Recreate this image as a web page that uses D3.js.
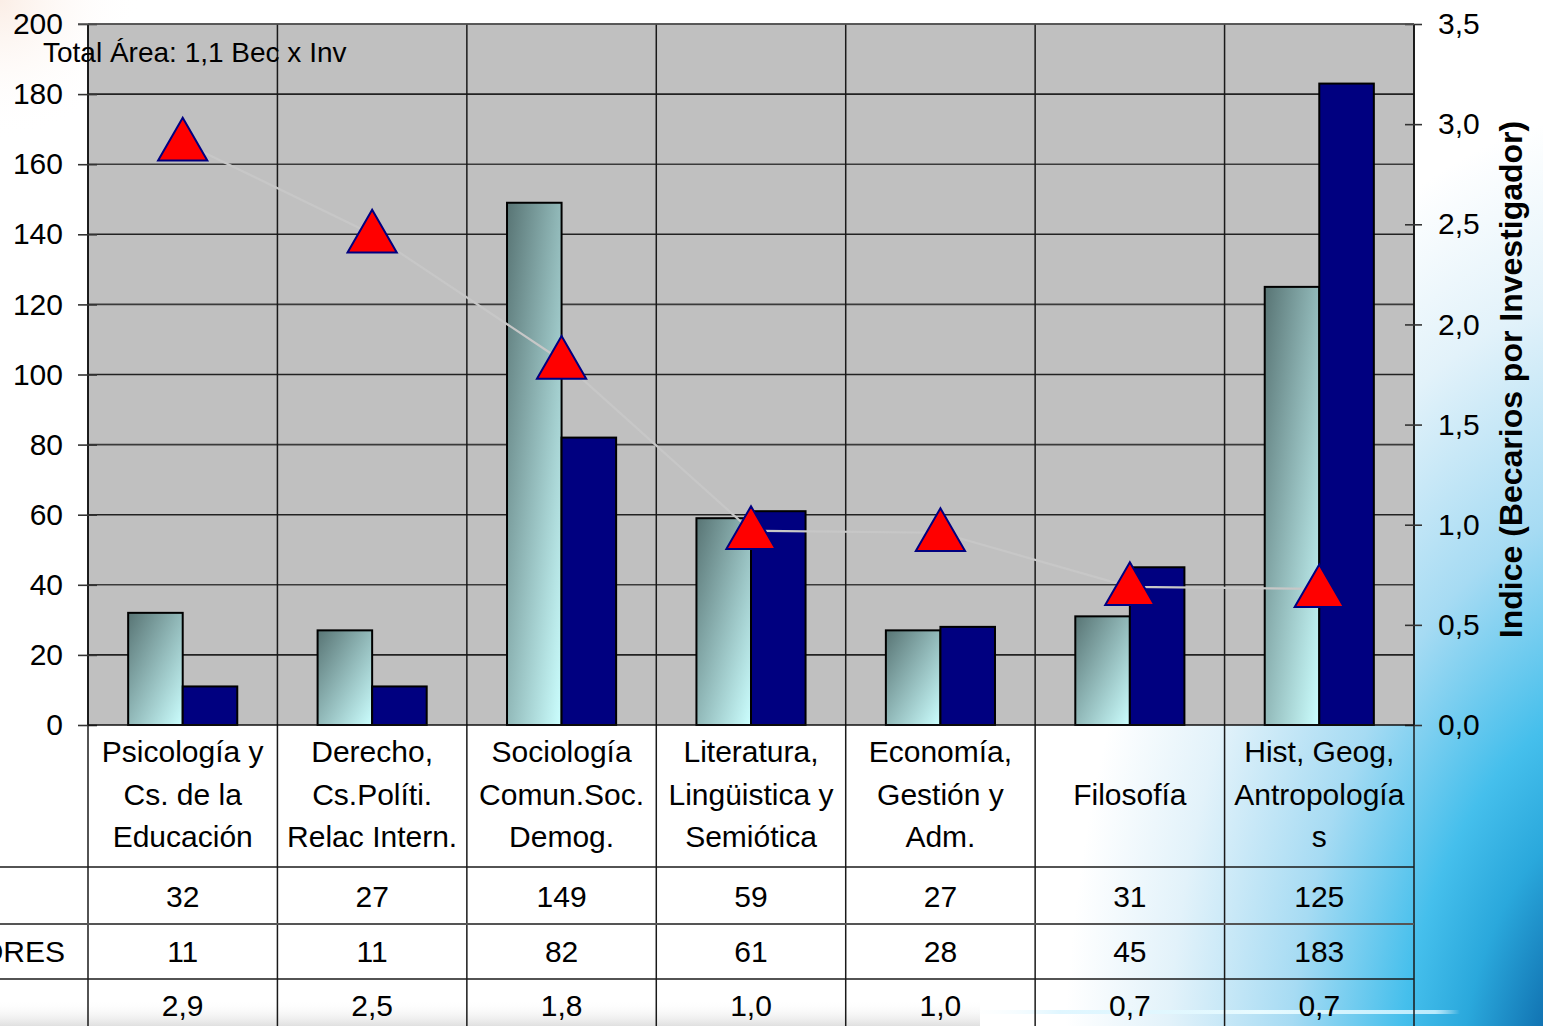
<!DOCTYPE html>
<html>
<head>
<meta charset="utf-8">
<script src="https://cdn.jsdelivr.net/npm/d3@7/dist/d3.min.js"></script>
<style>
  html, body { margin: 0; padding: 0; background: #fff; overflow: hidden; }
  svg { display: block; font-family: "Liberation Sans", Arial, sans-serif; }
</style>
</head>
<body>
<svg id="chart" width="1543" height="1026"></svg>
<script>
// ---- data ----
const categories = ["Psicología y Cs. de la Educación", "Derecho, Cs.Políti. Relac Intern.", "Sociología Comun.Soc. Demog.", "Literatura, Lingüistica y Semiótica", "Economía, Gestión y Adm.", "Filosofía", "Hist, Geog, Antropologías"];
const categoryLines = [
  ["Psicología y", "Cs. de la", "Educación"],
  ["Derecho,", "Cs.Políti.", "Relac Intern."],
  ["Sociología", "Comun.Soc.", "Demog."],
  ["Literatura,", "Lingüistica y", "Semiótica"],
  ["Economía,", "Gestión y", "Adm."],
  ["Filosofía"],
  ["Hist, Geog,", "Antropología", "s"]
];
const becarios = [32, 27, 149, 59, 27, 31, 125];
const investigadores = [11, 11, 82, 61, 28, 45, 183];
const indice = [2.91, 2.45, 1.82, 0.97, 0.96, 0.69, 0.68];
const indiceLabels = ["2,9", "2,5", "1,8", "1,0", "1,0", "0,7", "0,7"];
const leftTicks = [0, 20, 40, 60, 80, 100, 120, 140, 160, 180, 200];
const rightTicks = [0, 0.5, 1.0, 1.5, 2.0, 2.5, 3.0, 3.5];
const rowLabels = ["", "INVESTIGADORES", ""];
const note = "Total Área: 1,1 Bec x Inv";
const rightTitle = "Indice (Becarios por Investigador)";

// ---- layout ----
const W = 1543, H = 1026;
const plot = { left: 88, right: 1414, top: 24, bottom: 725 };
const svg = d3.select("#chart");
const defs = svg.append("defs");

// background gradients
const bgRad = defs.append("radialGradient").attr("id", "bgBlue")
  .attr("gradientUnits", "userSpaceOnUse")
  .attr("cx", 1640).attr("cy", 1120).attr("r", 760)
  .attr("gradientTransform", "translate(1640,1120) scale(0.8,1.4) translate(-1640,-1120)");
[[0, "#064a86"], [0.17, "#0f6eae"], [0.3, "#2aa8dc"], [0.4, "#45bfec"], [0.58, "#a6dbf3"], [0.78, "#e2f2fa"], [0.95, "#ffffff"]]
  .forEach(([o, c]) => bgRad.append("stop").attr("offset", o).attr("stop-color", c));
const bgPeach = defs.append("radialGradient").attr("id", "bgPeach")
  .attr("gradientUnits", "userSpaceOnUse").attr("cx", 0).attr("cy", 0).attr("r", 140);
bgPeach.append("stop").attr("offset", 0).attr("stop-color", "#fbeee6");
bgPeach.append("stop").attr("offset", 1).attr("stop-color", "#ffffff").attr("stop-opacity", 0);
const bottomShade = defs.append("linearGradient").attr("id", "bottomShade")
  .attr("x1", 0).attr("y1", 0).attr("x2", 0).attr("y2", 1);
bottomShade.append("stop").attr("offset", 0).attr("stop-color", "#ffffff").attr("stop-opacity", 0);
bottomShade.append("stop").attr("offset", 1).attr("stop-color", "#d8d8d8").attr("stop-opacity", 0.8);
const streak = defs.append("linearGradient").attr("id", "streak")
  .attr("x1", 0).attr("y1", 0).attr("x2", 1).attr("y2", 0);
[[0, "#ffffff", 0], [0.2, "#d8f4ff", 0.8], [0.6, "#e8fbff", 1], [0.95, "#c8f0ff", 0.9], [1, "#ffffff", 0]]
  .forEach(([o, c, a]) => streak.append("stop").attr("offset", o).attr("stop-color", c).attr("stop-opacity", a));

// bar gradient
const barGrad = defs.append("linearGradient").attr("id", "barGrad")
  .attr("x1", 0).attr("y1", 0).attr("x2", 1).attr("y2", 1);
barGrad.append("stop").attr("offset", 0).attr("stop-color", "#587474");
barGrad.append("stop").attr("offset", 1).attr("stop-color", "#ccffff");

svg.append("rect").attr("width", W).attr("height", H).attr("fill", "#ffffff");
svg.append("rect").attr("width", W).attr("height", H).attr("fill", "url(#bgBlue)");
svg.append("rect").attr("width", 200).attr("height", 200).attr("fill", "url(#bgPeach)");
svg.append("rect").attr("x", 0).attr("y", 1000).attr("width", 980).attr("height", 26).attr("fill", "url(#bottomShade)");
svg.append("rect").attr("x", 960).attr("y", 1010).attr("width", 500).attr("height", 4).attr("fill", "url(#streak)");

// ---- scales ----
const x = d3.scaleBand().domain(categories).range([plot.left, plot.right]).paddingInner(0).paddingOuter(0);
const yL = d3.scaleLinear().domain([0, 200]).range([plot.bottom, plot.top]);
const yR = d3.scaleLinear().domain([0, 3.5]).range([plot.bottom, plot.top]);
const barW = x.bandwidth() * 0.288;
const cx = c => x(c) + x.bandwidth() / 2;

// plot background
svg.append("rect").attr("x", plot.left).attr("y", plot.top)
  .attr("width", plot.right - plot.left).attr("height", plot.bottom - plot.top)
  .attr("fill", "#c0c0c0");

// horizontal gridlines
svg.append("g").selectAll("line").data(leftTicks.filter(t => t > 0)).join("line")
  .attr("x1", plot.left).attr("x2", plot.right)
  .attr("y1", d => yL(d)).attr("y2", d => yL(d))
  .attr("stroke", (d, i) => i % 2 ? "#3a3a3a" : "#222").attr("stroke-width", 1.6);

// vertical category lines (plot + table)
const bounds = categories.map(c => x(c)).concat([plot.right]);
svg.append("g").selectAll("line").data(bounds).join("line")
  .attr("x1", d => d).attr("x2", d => d)
  .attr("y1", plot.top).attr("y2", H)
  .attr("stroke", "#1a1a1a").attr("stroke-width", 1.5);

// bars
const gBars = svg.append("g");
gBars.selectAll("rect.bec").data(categories).join("rect").attr("class", "bec")
  .attr("x", d => cx(d) - barW).attr("width", barW)
  .attr("y", (d, i) => yL(becarios[i])).attr("height", (d, i) => yL(0) - yL(becarios[i]))
  .attr("fill", "url(#barGrad)").attr("stroke", "#000").attr("stroke-width", 2);
gBars.selectAll("rect.inv").data(categories).join("rect").attr("class", "inv")
  .attr("x", d => cx(d)).attr("width", barW)
  .attr("y", (d, i) => yL(investigadores[i])).attr("height", (d, i) => yL(0) - yL(investigadores[i]))
  .attr("fill", "#000080").attr("stroke", "#000").attr("stroke-width", 2);

// faint index line
const line = d3.line().x((d, i) => cx(categories[i])).y(d => yR(d));
svg.append("path").datum(indice).attr("d", line)
  .attr("fill", "none").attr("stroke", "#c7c7c7").attr("stroke-width", 2.2);

// triangles
const tri = d3.symbol().type(d3.symbolTriangle).size(1050);
svg.append("g").selectAll("path").data(indice).join("path")
  .attr("d", tri)
  .attr("transform", (d, i) => `translate(${cx(categories[i])},${yR(d) + 4})`)
  .attr("fill", "#ff0000").attr("stroke", "#000080").attr("stroke-width", 2);

// axes
const axL = svg.append("g").attr("transform", `translate(${plot.left},0)`)
  .call(d3.axisLeft(yL).tickValues(leftTicks).tickSize(10).tickPadding(15));
axL.select(".domain").attr("stroke", "#111").attr("stroke-width", 1.6).attr("d", `M0,${plot.top}V${plot.bottom}`);
axL.selectAll(".tick line").attr("x1", 9).attr("x2", -10).attr("stroke", "#333").attr("stroke-width", 1.6);
axL.selectAll(".tick text").attr("font-size", 30).attr("fill", "#000")
  .attr("font-family", "Liberation Sans, Arial, sans-serif").attr("x", -25);

const axR = svg.append("g").attr("transform", `translate(${plot.right},0)`)
  .call(d3.axisRight(yR).tickValues(rightTicks).tickSize(8).tickFormat(d => d3.format(".1f")(d).replace(".", ",")));
axR.select(".domain").attr("stroke", "#111").attr("stroke-width", 1.6).attr("d", `M0,${plot.top}V${plot.bottom}`);
axR.selectAll(".tick line").attr("x1", -9).attr("x2", 8).attr("stroke", "#333").attr("stroke-width", 1.6);
axR.selectAll(".tick text").attr("font-size", 30).attr("fill", "#000")
  .attr("font-family", "Liberation Sans, Arial, sans-serif").attr("x", 24);

// bottom baseline & top border
svg.append("line").attr("x1", plot.left).attr("x2", plot.right).attr("y1", plot.bottom).attr("y2", plot.bottom)
  .attr("stroke", "#111").attr("stroke-width", 1.6);
svg.append("line").attr("x1", plot.left - 10).attr("x2", plot.right).attr("y1", plot.top).attr("y2", plot.top)
  .attr("stroke", "#555").attr("stroke-width", 1.6);

// right axis title
svg.append("text")
  .attr("transform", `translate(1522,${(plot.top + plot.bottom) / 2 + 5}) rotate(-90)`)
  .attr("text-anchor", "middle").attr("font-size", 32).attr("font-weight", "bold")
  .text(rightTitle);

// note
svg.append("text").attr("x", 43).attr("y", 62).attr("font-size", 28).text(note);

// ---- table ----
const rowLines = [867, 924, 979];
svg.append("g").selectAll("line").data(rowLines).join("line")
  .attr("x1", 0).attr("x2", plot.right).attr("y1", d => d).attr("y2", d => d)
  .attr("stroke", (d, i) => i === 1 ? "#555" : "#1a1a1a").attr("stroke-width", (d, i) => i === 1 ? 2.2 : 1.6);

const gLab = svg.append("g").attr("font-size", 30).attr("text-anchor", "middle").attr("fill", "#000");
categories.forEach((c, i) => {
  const lines = categoryLines[i];
  const t = gLab.append("text").attr("x", cx(c));
  const startY = lines.length === 1 ? 805 : 762;
  lines.forEach((l, j) => t.append("tspan").attr("x", cx(c)).attr("y", startY + j * 42.5).text(l));
});

const rows = [becarios.map(String), investigadores.map(String), indiceLabels];
const rowBase = [907, 962, 1016];
rows.forEach((r, ri) => {
  svg.append("g").selectAll("text").data(r).join("text")
    .attr("x", (d, i) => cx(categories[i])).attr("y", rowBase[ri])
    .attr("text-anchor", "middle").attr("font-size", 30).text(d => d);
});
rowLabels.forEach((l, ri) => {
  if (!l) return;
  svg.append("text").attr("x", 65).attr("y", rowBase[ri]).attr("text-anchor", "end")
    .attr("font-size", 30).text(l);
});
</script>
</body>
</html>
